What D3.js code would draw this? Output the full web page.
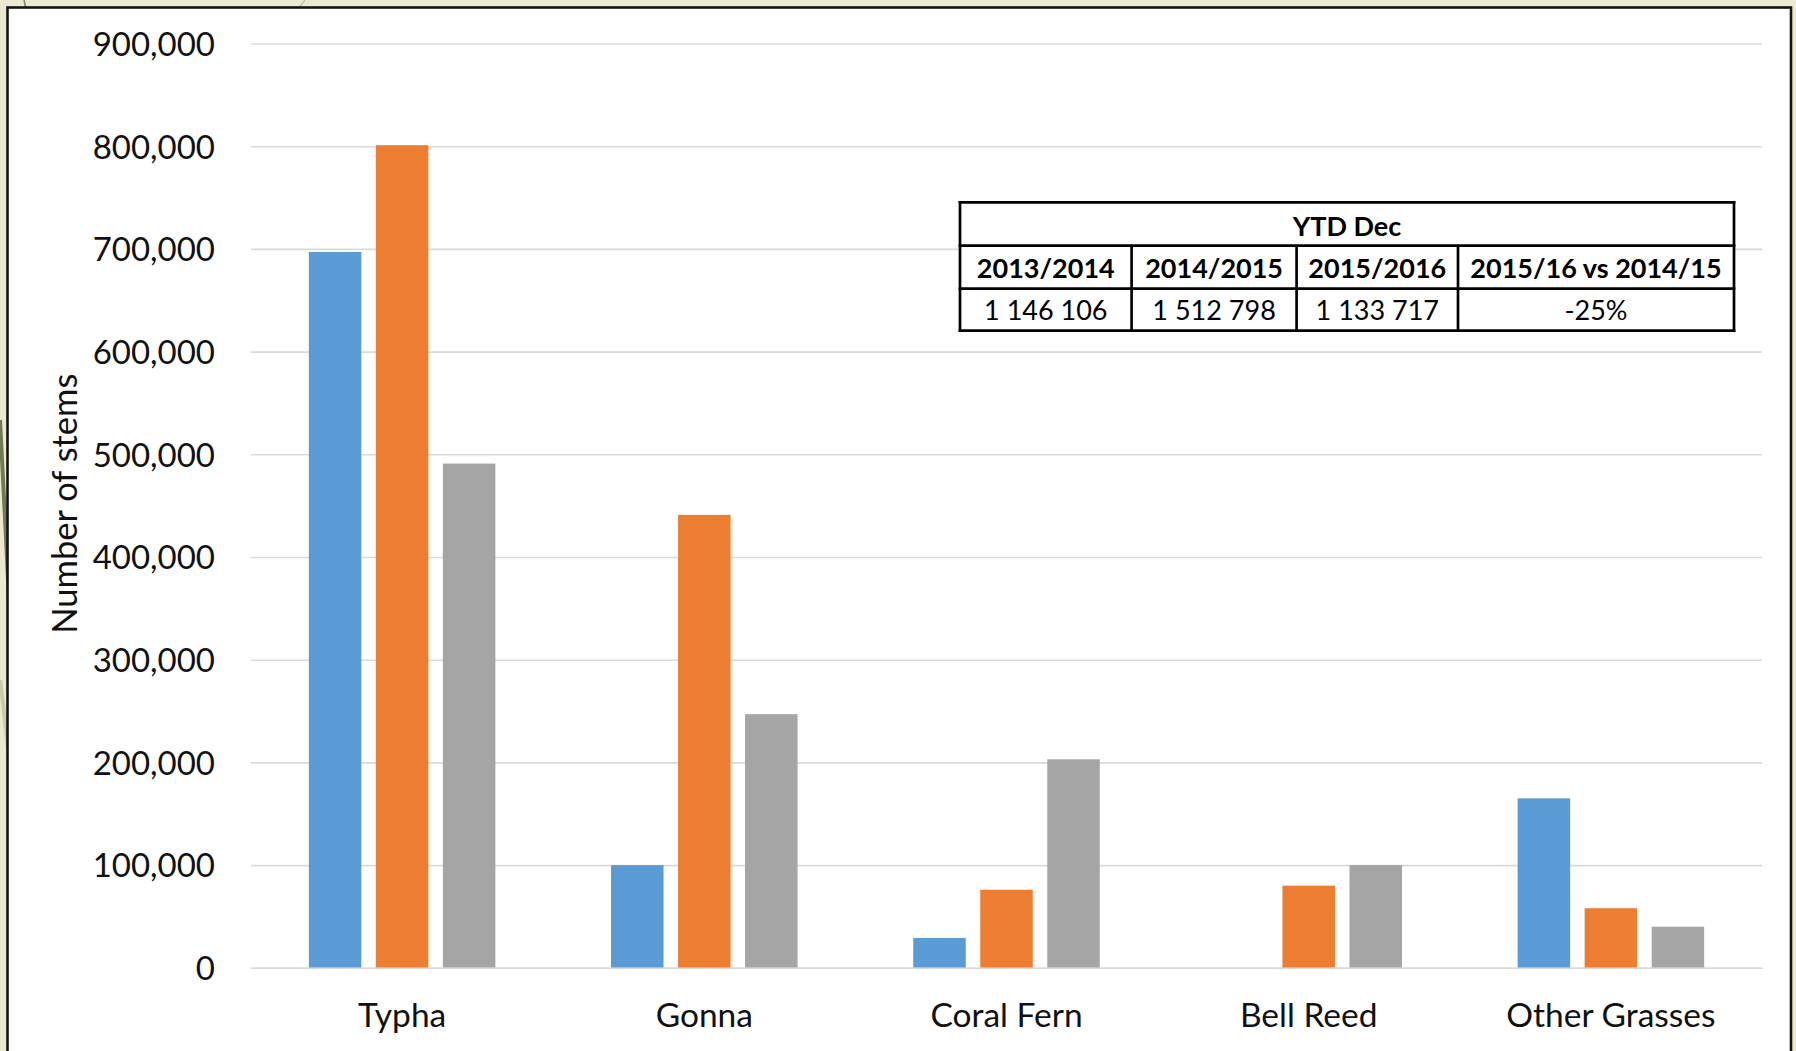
<!DOCTYPE html>
<html>
<head>
<meta charset="utf-8">
<script src="https://cdn.jsdelivr.net/npm/d3@7"></script>
<style>
  html, body { margin: 0; padding: 0; background: #ECE8CF; }
  svg { display: block; }
</style>
</head>
<body>
<svg id="chart" width="1796" height="1051"></svg>
<script>
// ---- data ----
const categories = ["Typha", "Gonna", "Coral Fern", "Bell Reed", "Other Grasses"];
const seriesNames = ["2013/2014", "2014/2015", "2015/2016"];
const values2013_14 = [697000, 100000, 29000, 0, 165000];
const values2014_15 = [801000, 441000, 76000, 80000, 58000];
const values2015_16 = [491000, 247000, 203000, 100000, 40000];
const yTickValues = [0, 100000, 200000, 300000, 400000, 500000, 600000, 700000, 800000, 900000];
const yAxisTitle = "Number of stems";
const tableTitle = "YTD Dec";
const tableHeaders = ["2013/2014", "2014/2015", "2015/2016", "2015/16 vs 2014/15"];
const tableValues = ["1 146 106", "1 512 798", "1 133 717", "-25%"];
const seriesColors = ["#5B9BD5", "#ED7D31", "#A5A5A5"];

const seriesValues = [values2013_14, values2014_15, values2015_16];

const svg = d3.select("#chart");
const W = 1796, H = 1051;
const FONT = "Lato, 'Open Sans', sans-serif";

// background with faint grass strokes
const bg = svg.append("g");
bg.append("rect").attr("width", W).attr("height", H).attr("fill", "#EDE9D1");
bg.append("path").attr("d", "M0,420 C3,470 6,540 9,600").attr("stroke", "#6E7B55").attr("stroke-width", 4).attr("fill", "none");
bg.append("path").attr("d", "M0,680 C3,700 6,730 9,760").attr("stroke", "#C9CBAA").attr("stroke-width", 4).attr("fill", "none");
bg.append("path").attr("d", "M24,0 L26,9").attr("stroke", "#7A8060").attr("stroke-width", 1.5);
bg.append("path").attr("d", "M305,0 L298,9").attr("stroke", "#B9B89B").attr("stroke-width", 1.2);

// white chart panel
svg.append("rect")
  .attr("x", 7.5).attr("y", 7.5)
  .attr("width", 1783.5).attr("height", 1100)
  .attr("fill", "#FFFFFF")
  .attr("stroke", "#141414").attr("stroke-width", 2.6);

// ---- scales ----
const plotLeft = 251, plotRight = 1762, plotTop = 43.5, plotBottom = 967.8;
const y = d3.scaleLinear().domain([0, 900000]).range([plotBottom, plotTop]);
const x0 = d3.scaleBand().domain(categories).range([plotLeft, plotRight]).padding(0);
const x1 = d3.scaleBand().domain(seriesNames).range([0, x0.bandwidth()])
  .paddingInner(0.2164).paddingOuter(0.863);

// gridlines
const grid = svg.append("g")
  .attr("transform", `translate(${plotLeft},0)`)
  .call(d3.axisLeft(y).tickValues(yTickValues).tickSize(-(plotRight - plotLeft)).tickFormat(""));
grid.select(".domain").remove();
grid.selectAll(".tick line").attr("stroke", "#D9D9D9").attr("stroke-width", 1.6);

// y-axis labels
const yAxis = svg.append("g")
  .attr("transform", `translate(${plotLeft},0)`)
  .call(d3.axisLeft(y).tickValues(yTickValues).tickSize(0).tickPadding(36).tickFormat(d3.format(",")));
yAxis.select(".domain").remove();
yAxis.selectAll("text")
  .attr("font-family", FONT).attr("font-size", 33).attr("fill", "#111")
  .attr("dy", "0.36em");

// bars
const groups = svg.append("g").selectAll("g")
  .data(categories)
  .join("g")
  .attr("transform", d => `translate(${x0(d)},0)`);

groups.selectAll("rect")
  .data((d, i) => seriesNames.map((s, j) => ({ s, j, v: seriesValues[j][i] })))
  .join("rect")
  .attr("x", d => x1(d.s))
  .attr("width", x1.bandwidth())
  .attr("y", d => y(d.v))
  .attr("height", d => y(0) - y(d.v))
  .attr("fill", d => seriesColors[d.j]);

// x-axis baseline + labels
const xAxis = svg.append("g")
  .attr("transform", `translate(0,${plotBottom})`)
  .call(d3.axisBottom(x0).tickSize(0).tickSizeOuter(0));
xAxis.select(".domain").attr("stroke", "#D9D9D9").attr("stroke-width", 1.6);
xAxis.selectAll("text")
  .attr("font-family", FONT).attr("font-size", 33.5).attr("fill", "#111")
  .attr("y", 59.5).attr("dy", null);

// y-axis title
svg.append("text")
  .attr("transform", `translate(77,${(plotTop + plotBottom) / 2 - 2}) rotate(-90)`)
  .attr("text-anchor", "middle")
  .attr("font-family", FONT).attr("font-size", 34.5).attr("fill", "#111")
  .text(yAxisTitle);

// ---- table ----
const colEdges = [960, 1131.6, 1296.6, 1458, 1734];
const rowEdges = [202.3, 245.7, 288.7, 330.7];
const tbl = svg.append("g");
tbl.append("rect")
  .attr("x", colEdges[0]).attr("y", rowEdges[0])
  .attr("width", colEdges[4] - colEdges[0]).attr("height", rowEdges[3] - rowEdges[0])
  .attr("fill", "#fff");
const tStroke = "#000", tW = 2.7;
rowEdges.forEach(r => tbl.append("line")
  .attr("x1", colEdges[0]).attr("x2", colEdges[4]).attr("y1", r).attr("y2", r)
  .attr("stroke", tStroke).attr("stroke-width", tW).attr("stroke-linecap", "square"));
[colEdges[0], colEdges[4]].forEach(c => tbl.append("line")
  .attr("x1", c).attr("x2", c).attr("y1", rowEdges[0]).attr("y2", rowEdges[3])
  .attr("stroke", tStroke).attr("stroke-width", tW).attr("stroke-linecap", "square"));
colEdges.slice(1, 4).forEach(c => tbl.append("line")
  .attr("x1", c).attr("x2", c).attr("y1", rowEdges[1]).attr("y2", rowEdges[3])
  .attr("stroke", tStroke).attr("stroke-width", tW));

const tFont = 27;
tbl.append("text")
  .attr("x", (colEdges[0] + colEdges[4]) / 2)
  .attr("y", (rowEdges[0] + rowEdges[1]) / 2 + tFont * 0.36 + 2)
  .attr("text-anchor", "middle")
  .attr("font-family", FONT).attr("font-size", tFont).attr("font-weight", 700).attr("fill", "#000")
  .text(tableTitle);
tableHeaders.forEach((h, i) => tbl.append("text")
  .attr("x", (colEdges[i] + colEdges[i + 1]) / 2)
  .attr("y", (rowEdges[1] + rowEdges[2]) / 2 + tFont * 0.36 + 1)
  .attr("text-anchor", "middle")
  .attr("font-family", FONT).attr("font-size", tFont).attr("font-weight", 700).attr("fill", "#000")
  .text(h));
tableValues.forEach((v, i) => tbl.append("text")
  .attr("x", (colEdges[i] + colEdges[i + 1]) / 2)
  .attr("y", (rowEdges[2] + rowEdges[3]) / 2 + tFont * 0.36 + 1)
  .attr("text-anchor", "middle")
  .attr("font-family", FONT).attr("font-size", tFont).attr("fill", "#000")
  .text(v));
</script>
</body>
</html>
